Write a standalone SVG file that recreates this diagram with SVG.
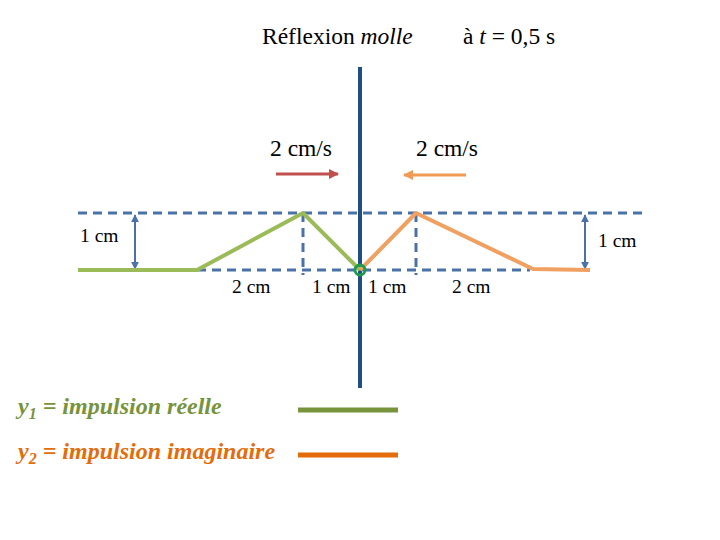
<svg xmlns="http://www.w3.org/2000/svg" width="720" height="540" viewBox="0 0 720 540">
<style>
.d{stroke:#4a72a8;stroke-width:3;stroke-dasharray:9 6;fill:none}
.dim{stroke:#4a72a8;stroke-width:2;fill:none}
</style>
<defs>
<marker id="ah" viewBox="0 0 10 10" refX="9" refY="5" markerWidth="4" markerHeight="4" orient="auto-start-reverse"><path d="M0,0L10,5L0,10z" fill="#4a72a8"/></marker>
<marker id="ar" viewBox="0 0 10 10" refX="9" refY="5" markerWidth="3.5" markerHeight="3.5" orient="auto"><path d="M0,0L10,5L0,10z" fill="#c0504d"/></marker>
<marker id="ao" viewBox="0 0 10 10" refX="9" refY="5" markerWidth="3.5" markerHeight="3.5" orient="auto"><path d="M0,0L10,5L0,10z" fill="#f09a55"/></marker>
</defs>
<rect width="720" height="540" fill="#fff"/>
<g id="title" font-family="Liberation Serif" font-size="23.5" fill="#000">
<text x="262" y="44">Réflexion <tspan font-style="italic">molle</tspan></text>
<text x="463" y="44">à <tspan font-style="italic">t</tspan> = 0,5 s</text>
</g>
<g id="connectors">
<line x1="360" y1="67" x2="360" y2="388" stroke="#1f4e85" stroke-width="4"/>
<line class="d" x1="78" y1="213" x2="642" y2="213"/>
<line class="d" x1="197" y1="270" x2="530" y2="270"/>
<line class="d" x1="303" y1="213" x2="303" y2="275"/>
<line class="d" x1="416" y1="213" x2="416" y2="275"/>
<line class="dim" x1="135" y1="215" x2="135" y2="269" marker-start="url(#ah)" marker-end="url(#ah)"/>
<line class="dim" x1="585" y1="215" x2="585" y2="269" marker-start="url(#ah)" marker-end="url(#ah)"/>
<line x1="276" y1="174" x2="338" y2="174" stroke="#c0504d" stroke-width="3" marker-end="url(#ar)"/>
<line x1="466" y1="175" x2="404" y2="175" stroke="#f09a55" stroke-width="3" marker-end="url(#ao)"/>
</g>
<g id="pulse1">
<polyline points="78,270 197,270 303,213 360,270" fill="none" stroke="#9bbb59" stroke-width="4" stroke-linejoin="round"/>
</g>
<g id="pulse2">
<polyline points="360,270 416,213 533,269 590,270" fill="none" stroke="#f0a060" stroke-width="4" stroke-linejoin="round"/>
</g>
<circle cx="360" cy="270" r="5" fill="none" stroke="#1e9a50" stroke-width="3"/>
<g id="labels" font-family="Liberation Serif" font-size="19.5" fill="#000">
<text x="270" y="156" font-size="23.5">2 cm/s</text>
<text x="416" y="156" font-size="23.5">2 cm/s</text>
<text x="80" y="242">1 cm</text>
<text x="598" y="247">1 cm</text>
<text x="232" y="293">2 cm</text>
<text x="312" y="293">1 cm</text>
<text x="368" y="293">1 cm</text>
<text x="452" y="293">2 cm</text>
</g>
<g id="legend" font-family="Liberation Serif" font-size="24" font-weight="bold" font-style="italic">
<text x="18" y="414" fill="#77933c">y<tspan font-size="16" dy="5">1</tspan><tspan dy="-5"> = impulsion réelle</tspan></text>
<text x="18" y="459" fill="#e46c0a">y<tspan font-size="16" dy="5">2</tspan><tspan dy="-5"> = impulsion imaginaire</tspan></text>
<line x1="298" y1="410" x2="398" y2="410" stroke="#77933c" stroke-width="5"/>
<line x1="298" y1="455" x2="398" y2="455" stroke="#e46c0a" stroke-width="5"/>
</g>
</svg>
